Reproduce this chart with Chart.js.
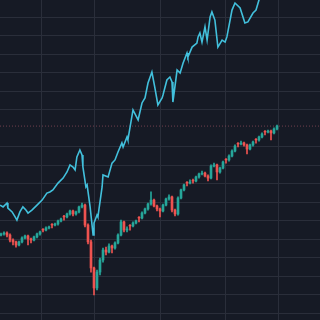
<!DOCTYPE html>
<html>
<head>
<meta charset="utf-8">
<script src="https://cdn.jsdelivr.net/npm/chart.js@4"></script>
<style>
    html, body { margin: 0; padding: 0; background: #161a25; }
    #chart { display: block; }
</style>
</head>
<body>
<canvas id="chart" width="320" height="320"></canvas>
<script>
// candle data (one candle per index)
const opens = [2623, 2629, 2634, 2623, 2596, 2586, 2569, 2586, 2607, 2618,
    2602, 2596, 2613, 2629, 2654, 2650, 2661, 2681, 2677, 2683,
    2699, 2725, 2721, 2737, 2753, 2737, 2748, 2775, 2785, 2677,
    2586, 2445, 2337, 2423, 2488, 2542, 2531, 2564, 2553, 2580,
    2623, 2694, 2650, 2676, 2672, 2688, 2719, 2715, 2742, 2764,
    2791, 2812, 2780, 2764, 2753, 2785, 2818, 2829, 2758, 2737,
    2823, 2867, 2908, 2904, 2919, 2915, 2937, 2953, 2958, 2942,
    2931, 2996, 3002, 2964, 2985, 3033, 3029, 3050, 3077, 3119,
    3115, 3121, 3110, 3088, 3110, 3141, 3137, 3153, 3184, 3180,
    3185, 3175, 3196];
const closes = [2629, 2634, 2623, 2596, 2586, 2569, 2586, 2607, 2618, 2602,
    2596, 2613, 2629, 2640, 2650, 2661, 2667, 2677, 2683, 2699,
    2710, 2721, 2737, 2753, 2737, 2748, 2775, 2785, 2677, 2586,
    2445, 2337, 2423, 2488, 2542, 2531, 2564, 2553, 2580, 2623,
    2694, 2650, 2656, 2672, 2688, 2699, 2715, 2742, 2764, 2791,
    2812, 2780, 2764, 2753, 2785, 2818, 2829, 2758, 2737, 2823,
    2867, 2894, 2904, 2910, 2915, 2937, 2953, 2958, 2942, 2931,
    2996, 3002, 2964, 2985, 3018, 3029, 3050, 3077, 3104, 3115,
    3121, 3110, 3088, 3110, 3126, 3137, 3153, 3169, 3180, 3185,
    3175, 3196, 3212];
const highs = [2634, 2640, 2640, 2629, 2602, 2591, 2591, 2613, 2623, 2623,
    2607, 2618, 2634, 2645, 2658, 2667, 2672, 2685, 2688, 2704,
    2715, 2729, 2742, 2758, 2758, 2753, 2780, 2796, 2791, 2683,
    2596, 2450, 2434, 2499, 2553, 2558, 2575, 2569, 2586, 2629,
    2704, 2699, 2667, 2680, 2694, 2704, 2723, 2748, 2769, 2796,
    2856, 2818, 2785, 2769, 2791, 2823, 2840, 2834, 2764, 2829,
    2872, 2899, 2912, 2921, 2926, 2942, 2958, 2969, 2964, 2948,
    3002, 3012, 3007, 2991, 3023, 3037, 3056, 3083, 3110, 3123,
    3131, 3126, 3115, 3115, 3131, 3145, 3158, 3175, 3188, 3191,
    3191, 3202, 3218];
const lows = [2618, 2623, 2613, 2586, 2569, 2558, 2564, 2580, 2602, 2569,
    2580, 2591, 2607, 2623, 2640, 2645, 2656, 2661, 2672, 2677,
    2694, 2704, 2715, 2731, 2726, 2731, 2742, 2769, 2667, 2575,
    2423, 2299, 2326, 2407, 2477, 2515, 2526, 2526, 2547, 2575,
    2618, 2640, 2640, 2650, 2667, 2683, 2694, 2710, 2737, 2758,
    2785, 2775, 2753, 2721, 2748, 2780, 2812, 2748, 2726, 2731,
    2818, 2861, 2888, 2899, 2904, 2910, 2931, 2948, 2937, 2915,
    2926, 2991, 2921, 2958, 2980, 3012, 3023, 3045, 3072, 3099,
    3110, 3104, 3061, 3083, 3104, 3120, 3131, 3148, 3164, 3175,
    3137, 3169, 3191];

// comparison line (own x positions, in candle index units)
const lineX = [-0.3, 0.7, 2, 2.3, 3.7, 4.7, 5.3, 6.3, 7.3, 8.3,
    9, 10.3, 12, 13.7, 15.3, 16.3, 17.3, 19, 20.7, 22,
    23, 24, 24.7, 25.3, 26.3, 27, 27.3, 28.3, 28.7, 29.7,
    30.7, 31, 32, 32.3, 33.7, 34, 35.7, 37, 38, 39,
    40.3, 40.7, 42, 42.3, 44, 45.7, 47, 48, 49, 50.3,
    51.3, 52.3, 53.7, 54, 55.3, 56.3, 57, 57.3, 58.7, 59.7,
    60.7, 62, 62.3, 63.7, 65.3, 65.7, 66.3, 67, 68, 68.7,
    69.7, 70.3, 71.3, 72.3, 73.7, 74.7, 75.3, 77, 78, 79.7,
    81.3, 82.3, 84, 85, 86, 88, 92];
const lineY = [2785, 2775, 2796, 2769, 2748, 2721, 2704, 2748, 2775, 2758,
    2742, 2758, 2785, 2812, 2850, 2856, 2867, 2904, 2931, 2964,
    3002, 2991, 2975, 3045, 3083, 3056, 2991, 2883, 2894, 2775,
    2623, 2688, 2731, 2721, 2883, 2948, 2937, 3012, 3029, 3072,
    3121, 3099, 3153, 3137, 3299, 3245, 3337, 3364, 3445, 3504,
    3418, 3326, 3364, 3380, 3461, 3477, 3450, 3342, 3515, 3499,
    3553, 3607, 3585, 3639, 3661, 3694, 3715, 3666, 3748, 3677,
    3802, 3829, 3785, 3639, 3677, 3666, 3694, 3839, 3877, 3850,
    3769, 3775, 3823, 3839, 3894, 3958, 4002];

// grid positions
const gridX = [22.3, 40, 66, 83.7];
const gridY = [2200, 2300, 2400, 2500, 2600, 2700, 2800, 2900, 3000,
    3100, 3200, 3300, 3400, 3500, 3600, 3700, 3800];

const UP = '#26a69a';
const DOWN = '#ef5350';
const GRID = '#2a2e3a';

const xMin = -1 / 3;
const xMax = xMin + 320 / 3;
const lastClose = closes[closes.length - 1];

function candleColor(ctx) {
    const i = ctx.dataIndex;
    return closes[i] >= opens[i] ? UP : DOWN;
}

const bodies = closes.map((c, i) => ({ x: i, y: [opens[i], c] }));
const wicks = closes.map((c, i) => ({ x: i, y: [lows[i], highs[i]] }));
const linePoints = lineX.map((x, i) => ({ x: x, y: lineY[i] }));

new Chart(document.getElementById('chart').getContext('2d'), {
    type: 'bar',
    data: {
        datasets: [
            {
                type: 'line',
                data: linePoints,
                borderColor: '#42c0dc',
                borderWidth: 1.6,
                pointRadius: 0,
                tension: 0,
                order: 0
            },
            {
                type: 'line',
                data: [{ x: xMin, y: lastClose }, { x: xMax, y: lastClose }],
                borderColor: 'rgba(150, 80, 95, 0.7)',
                borderWidth: 1,
                borderDash: [1, 2],
                pointRadius: 0,
                order: 3
            },
            {
                data: wicks,
                backgroundColor: candleColor,
                barThickness: 1,
                grouped: false,
                borderWidth: 0,
                order: 2
            },
            {
                data: bodies,
                backgroundColor: candleColor,
                barThickness: 2,
                grouped: false,
                borderWidth: 0,
                order: 1
            }
        ]
    },
    options: {
        responsive: false,
        animation: false,
        devicePixelRatio: 1,
        layout: { padding: 0 },
        plugins: {
            legend: { display: false },
            tooltip: { enabled: false }
        },
        scales: {
            x: {
                type: 'linear',
                min: xMin,
                max: xMax,
                offset: false,
                ticks: { display: false },
                border: { display: false },
                grid: { color: GRID, drawTicks: false },
                afterBuildTicks: function(scale) {
                    scale.ticks = gridX.map(v => ({ value: v }));
                }
            },
            y: {
                min: 2163.8,
                max: 3893.5,
                ticks: { display: false },
                border: { display: false },
                grid: {
                    drawTicks: false,
                    color: function(ctx) {
                        return ctx.tick && ctx.tick.value === 3200 ? 'rgba(0,0,0,0)' : GRID;
                    }
                },
                afterBuildTicks: function(scale) {
                    scale.ticks = gridY.map(v => ({ value: v }));
                }
            }
        }
    }
});
</script>
</body>
</html>
